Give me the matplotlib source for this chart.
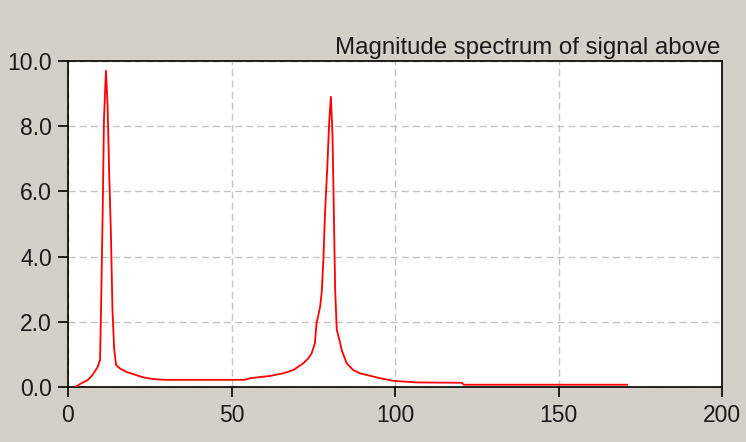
import numpy as np
import matplotlib
matplotlib.use("Agg")
from matplotlib import pyplot as plt

#------------------------------------------------------------------------
#                           data
#------------------------------------------------------------------------
freq = [2.2, 4.0, 6.0, 7.5, 9.1, 9.8, 10.1, 10.6, 11.0, 11.6, 12.1, 12.6,
        13.1, 13.6, 14.1, 14.7, 15.9, 17.7, 19.8, 22.8, 26.4, 30.0, 54.0,
        55.7, 61.8, 65.8, 68.9, 72.0, 73.5, 74.5, 75.5, 76.0, 77.1, 77.6,
        78.1, 78.6, 79.3, 79.9, 80.4, 80.9, 81.3, 81.7, 82.2, 83.0, 83.7,
        85.2, 87.2, 89.3, 91.3, 95.4, 99.5, 106.6, 120.4, 121.0, 171.0]
magnitude = [0.0, 0.11, 0.21, 0.37, 0.62, 0.83, 2.36, 5.34, 8.21, 9.7, 8.65, 6.55,
             4.8, 2.36, 1.19, 0.67, 0.57, 0.47, 0.40, 0.30, 0.24, 0.22, 0.22,
             0.27, 0.34, 0.42, 0.52, 0.73, 0.88, 1.03, 1.34, 1.95, 2.46, 2.92,
             3.9, 5.33, 6.76, 8.19, 8.9, 7.68, 5.34, 2.98, 1.75, 1.44, 1.13,
             0.73, 0.52, 0.42, 0.37, 0.27, 0.19, 0.14, 0.13, 0.07, 0.07]

xTicks = [0, 50, 100, 150, 200]
yTicks = [0.0, 2.0, 4.0, 6.0, 8.0, 10.0]
yTickLabels = ["%.1f" % v for v in yTicks]
title = "Magnitude spectrum of signal above"

#------------------------------------------------------------------------
#                           figure
#------------------------------------------------------------------------
bg = "#d4d0c8"
plt.rcParams['font.family'] = ['Liberation Sans', 'DejaVu Sans']

fig = plt.figure(figsize=(7.46, 4.42), dpi=100, facecolor=bg)
ax = fig.add_axes([68/746, 1 - 387/442, (722-68)/746, (387-61)/442])
ax.set_facecolor("white")

ax.plot(freq, magnitude, color="#ff0000", linewidth=1.3, zorder=3)

ax.set_xlim(0, 200)
ax.set_ylim(0, 10)
ax.set_xticks(xTicks)
ax.set_xticklabels([str(t) for t in xTicks])
ax.set_yticks(yTicks)
ax.set_yticklabels(yTickLabels)

#grid
ax.grid(True, color="#c4c4c4", linestyle=(0, (5, 3)), linewidth=1.0, zorder=1)

for s in ax.spines.values():
    s.set_color("black")
    s.set_linewidth(1.2)

ax.tick_params(axis="both", direction="out", length=7.5, width=1.2, color="black",
               labelsize=16.5, labelcolor="#1a1a1a")
ax.tick_params(axis="y", pad=4)
ax.tick_params(axis="x", pad=5)

#title sits just on top of the frame, right aligned
ax.annotate(title, xy=(1.0, 1.0), xycoords="axes fraction",
            xytext=(-1, 5), textcoords="offset points",
            ha="right", va="baseline", fontsize=17.3, color="#1a1a1a")

fig.savefig("out.png", dpi=100, facecolor=bg)
